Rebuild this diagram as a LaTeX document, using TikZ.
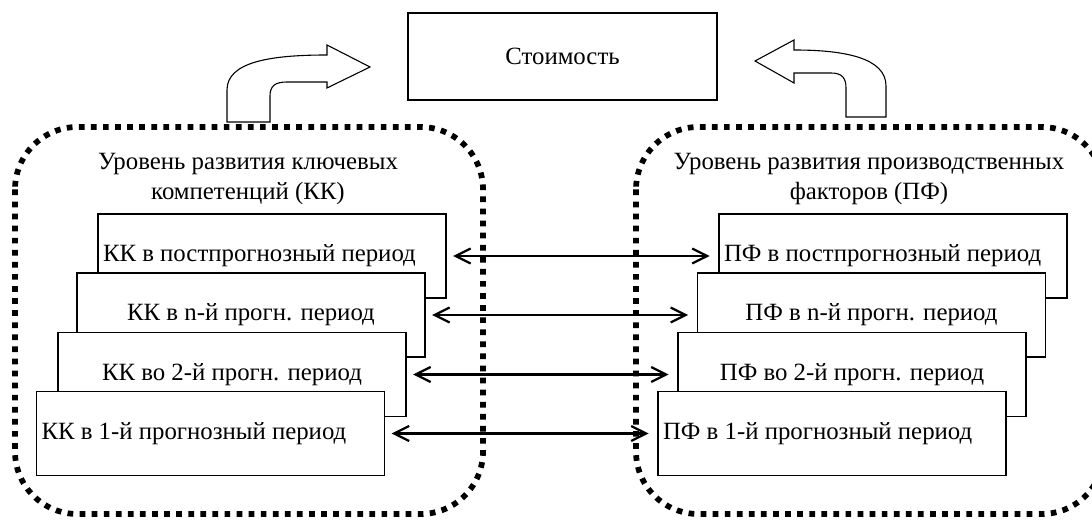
\documentclass[tikz,border=0pt]{standalone}
\usepackage{fontspec}
\setmainfont{Liberation Serif}
\usetikzlibrary{arrows.meta}

\begin{document}
\begin{tikzpicture}[
  x=0.016cm, y=-0.016cm,
  font=\fontsize{11.3}{13.3}\selectfont,
  period/.style={draw, fill=white, line width=0.6pt, minimum width=5.568cm,
                 minimum height=1.344cm, inner sep=0pt},
  widetext/.style={text width=5.41cm, align=flush left},
  costbox/.style={draw, line width=0.6pt, minimum width=4.944cm,
                  minimum height=1.392cm, inner sep=0pt},
  head/.style={align=center, inner sep=0pt},
  group/.style={line width=2.6pt, dash pattern=on 2.6pt off 2.9pt, rounded corners=1cm},
  link/.style={line width=1pt, {Straight Barb[length=2.4mm,width=2.4mm]}-{Straight Barb[length=2.4mm,width=2.4mm]},
               shorten <=3pt, shorten >=4pt},
  turnarrow/.style={draw, fill=white, line width=0.5pt},
]
\useasboundingbox (0,0) rectangle (1092,521);

% ---- Value ----
\node[costbox] (cost) at (562.5,56.5) {Стоимость};

% ---- Bent arrows up to the value ----
\draw[turnarrow] (227,122) -- (227,90) .. controls (227,62) and (270,55) .. (327,55)
  -- (327,45) -- (370,67) -- (327,88) -- (327,82) -- (287,82)
  .. controls (275,82) and (270,86) .. (270,96) -- (270,122) -- cycle;
\draw[turnarrow] (886,117) -- (886,86) .. controls (886,58) and (845,50) .. (794,50)
  -- (794,40) -- (755,61) -- (794,83) -- (794,73) -- (831,73)
  .. controls (842,73) and (846,78) .. (846,88) -- (846,117) -- cycle;

% ---- Groups ----
\draw[group] (15,127) rectangle (483,514);
\draw[group] (636,127) rectangle (1104,514);
\node[head] (kkhead) at (248,179) {Уровень развития ключевых\\компетенций (КК)};
\node[head] (pfhead) at (869,179) {Уровень развития производственных\\факторов (ПФ)};

% ---- Periods, back to front ----
\node[period, widetext] (kk1) at (272,256)   {КК в постпрогнозный период};
\node[period] (kk2) at (251,315)   {КК в n-й прогн. период};
\node[period] (kk3) at (232,374.5) {КК во 2-й прогн. период};
\node[period, widetext] (kk4) at (210.5,433.5) {КК в 1-й прогнозный период};

\node[period, widetext] (pf1) at (893,256)   {ПФ в постпрогнозный период};
\node[period] (pf2) at (871.5,315) {ПФ в n-й прогн. период};
\node[period] (pf3) at (852,374.5) {ПФ во 2-й прогн. период};
\node[period, widetext] (pf4) at (832,433.5) {ПФ в 1-й прогнозный период};

% ---- Links between the two sides ----
\foreach \i in {1,...,4}
  \draw[link] (kk\i) -- (pf\i);
\end{tikzpicture}
\end{document}
